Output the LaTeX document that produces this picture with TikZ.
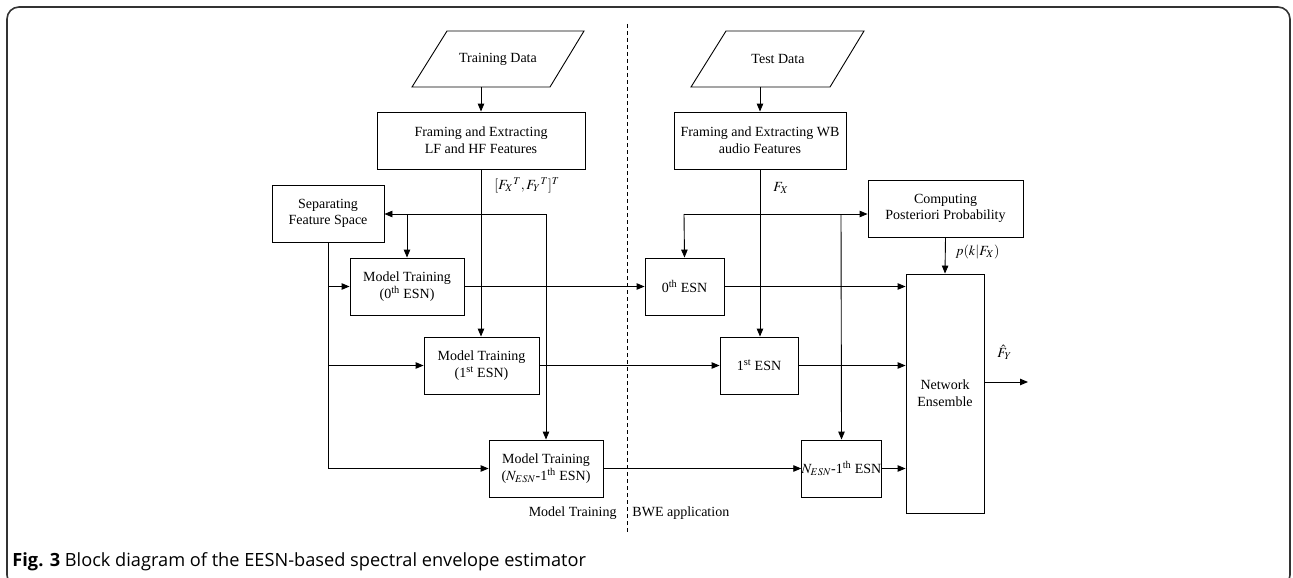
\documentclass[tikz,border=0pt]{standalone}
\usepackage{mathptmx}
\usepackage{fontspec}
\setmainfont{Liberation Serif}
\newfontfamily\capfont{Open Sans}
\usetikzlibrary{arrows.meta}
\newcommand\dfont{\fontsize{14}{16.7}\selectfont}
\begin{document}
\begin{tikzpicture}[x=1pt,y=-1pt,line width=0.9pt,
  >={Triangle[length=8pt,width=6.5pt]},
  box/.style={draw,minimum width=#1,minimum height=57pt,align=center,inner sep=0pt,font=\dfont},
  lbl/.style={inner sep=0pt,font=\dfont},
  frame/.style={draw=black!80,line width=1.6pt,rounded corners=12pt}]
\useasboundingbox (0,0) rectangle (1293,578);
\draw[frame] (7,7) rectangle (1290,587);
% data parallelograms
\draw (447,31) -- (584,31) -- (550,87) -- (412,87) -- cycle;
\node[lbl] (trd) at (498,59) {Training Data};
\coordinate (trdb) at (481,87);
\draw (726,31) -- (864,31) -- (830,87) -- (691,87) -- cycle;
\node[lbl] (ted) at (778,59) {Test Data};
\coordinate (tedb) at (760,87);
% boxes
\node[box=208pt] (lf) at (481,140.5) {Framing and Extracting\\LF and HF Features};
\node[box=172pt] (wb) at (760,140.5) {Framing and Extracting WB\\audio Features};
\node[box=112pt] (sep) at (328,213.5) {Separating\\Feature Space};
\node[box=114pt] (mt0) at (407,286.5) {Model Training\\(0\textsuperscript{th} ESN)};
\node[box=115pt] (mt1) at (481.5,365.5) {Model Training\\(1\textsuperscript{st} ESN)};
\node[box=114pt] (mtN) at (546,468.5) {Model Training\\($N_{ESN}$-1\textsuperscript{th} ESN)};
\node[box=79pt] (esn0) at (684.5,286.5) {0\textsuperscript{th} ESN};
\node[box=78pt] (esn1) at (759,365.5) {1\textsuperscript{st} ESN};
\node[box=79pt] (esnN) at (841.5,468.5) {$N_{ESN}$-1\textsuperscript{th} ESN};
\node[box=155pt] (cpp) at (945.5,208.5) {Computing\\Posteriori Probability};
\node[box=78pt,minimum height=239pt] (ne) at (945,393.5) {Network\\Ensemble};
% labels
\node[lbl,anchor=west] (lfx) at (494,185) {$[{F_X}^T, {F_Y}^T]^T$};
\node[lbl,anchor=west] (lx) at (773,188) {$F_X$};
\node[lbl,anchor=west] (lp) at (955,252) {$p(k|F_X)$};
\node[lbl,anchor=west] (lhat) at (997,352) {$\hat{F}_Y$};
\node[lbl,anchor=east] (lmt) at (617,513) {Model Training};
\node[lbl,anchor=west] (lbwe) at (632,513) {BWE application};
% dashed divider
\coordinate (dt) at (627,24);
\coordinate (db) at (627,534);
\draw[dashed,dash pattern=on 4pt off 3pt,line width=0.7pt] (dt) -- (db);
% left connectors
\draw[->] (trdb) -- (lf.north);
\draw[->] (lf.south) -- (lf.south |- mt1.north);
\coordinate (tl) at (546,214);
\draw[->] (tl) -- (sep.east |- tl);
\draw[->] (tl) -- (mtN.north);
\draw[->] (mt0.north |- tl) -- (mt0.north);
\draw[->] (sep.south) |- (mtN.west);
\draw[->] (sep.south |- mt0.west) -- (mt0.west);
\draw[->] (sep.south |- mt1.west) -- (mt1.west);
% cross connectors
\draw[->] (mt0.east) -- (esn0.west);
\draw[->] (mt1.east) -- (esn1.west);
\draw[->] (mtN.east) -- (esnN.west);
% right connectors
\draw[->] (tedb) -- (wb.north);
\draw[->] (wb.south) -- (wb.south |- esn1.north);
\coordinate (jl) at (684,214);
\coordinate (jr) at (841,214);
\draw[->] (jl) -- (cpp.west |- jl);
\draw[->] (jl) -- (esn0.north);
\draw[->] (jr) -- (esnN.north);
\draw[->] (cpp.south) -- (ne.north);
\draw[->] (esn0.east) -- (ne.west |- esn0.east);
\draw[->] (esn1.east) -- (ne.west |- esn1.east);
\draw[->] (esnN.east) -- (ne.west |- esnN.east);
\coordinate (out) at (1028,382);
\draw[->] (ne.east |- out) -- (out);
% caption
\node[anchor=west,inner sep=0pt,font=\capfont\fontsize{18.2}{21}\selectfont] (cap) at (12,562)
  {\textbf{Fig. 3} Block diagram of the EESN-based spectral envelope estimator};
\end{tikzpicture}
\end{document}
